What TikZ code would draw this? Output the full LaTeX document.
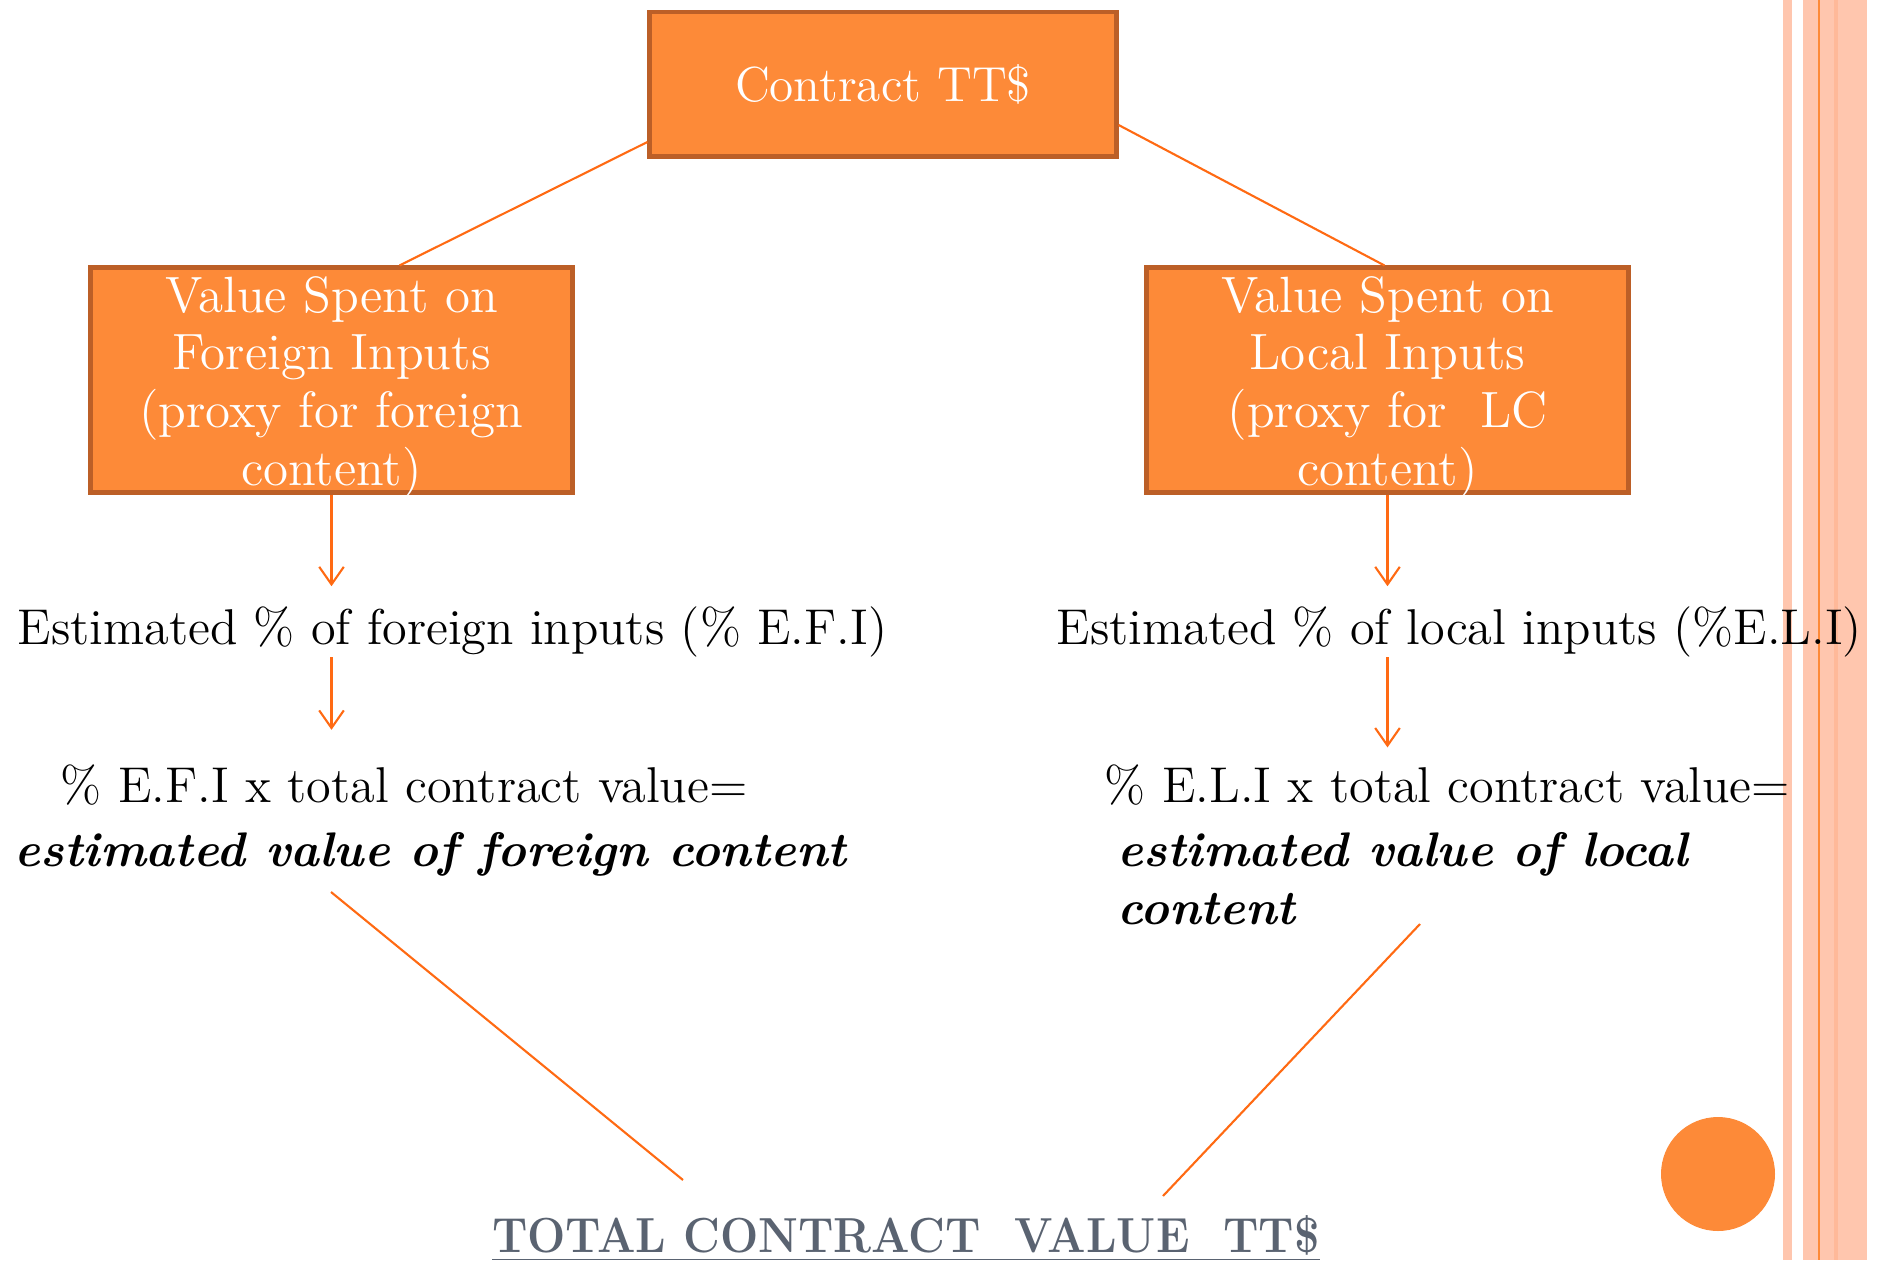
\documentclass[tikz,border=0pt]{standalone}
\usetikzlibrary{arrows.meta,calc,positioning}
\definecolor{boxfill}{HTML}{FD8A38}
\definecolor{boxline}{HTML}{BC5F27}
\definecolor{linkcol}{HTML}{FF6A13}
\definecolor{stripe}{HTML}{FFC6AE}
\definecolor{stripedark}{HTML}{FFB999}
\definecolor{totalcol}{HTML}{5A6371}
\begin{document}
\begin{tikzpicture}[x=0.01cm,y=-0.01cm,font=\fontsize{14.3}{16.4}\selectfont,
	box/.style={draw=boxline,fill=boxfill,line width=1.4pt,text=white,align=center,inner sep=0pt},
	tallbox/.style={box,minimum width=4.81cm,minimum height=2.24cm},
	boxtext/.style={text=white,align=center,inner sep=0pt,font=\fontsize{14.5}{16.4}\selectfont},
	link/.style={draw=linkcol,line width=0.6pt},
	arr/.style={link,-{Straight Barb[length=5pt,width=7pt]}},
	txt/.style={anchor=base west,inner sep=0pt,align=left},
	bold/.style={font=\fontsize{13.8}{16.4}\selectfont\bfseries\itshape}]
	\useasboundingbox (0,0) rectangle (1881,1260);
	% stripes on the right
	\fill[stripe] (1783,0) rectangle (1792,1260);
	\fill[stripe] (1803,0) rectangle (1867,1260);
	\fill[stripedark] (1834,0) rectangle (1838,1260);
	\draw[boxfill,line width=0.6pt] (1819,0) -- (1819,1260);
	\fill[boxfill] (1718,1174) circle (57);
	% boxes
	\node[box,minimum width=4.66cm,minimum height=1.44cm,font=\fontsize{14}{16.4}\selectfont]
		(contract) at (883,84) {Contract TT\$};
	\node[tallbox] (foreign) at (331.5,380) {};
	\node[boxtext] (foreign_t) at ($(foreign)+(0,7)$)
		{Value Spent on\\Foreign Inputs\\(proxy for foreign\\content)};
	\node[tallbox] (local) at (1387.5,380) {};
	\node[boxtext] (local_t) at ($(local)+(0,7)$)
		{Value Spent on\\Local Inputs\\(proxy for\ \ LC\\content)};
	% texts
	\node[txt] (efi) at (17,644) {Estimated \% of foreign inputs (\% E.F.I)};
	\node[txt] (eli) at (1056,644) {Estimated \% of local inputs (\%E.L.I)};
	\node[txt] (efx) at (60,802) {\% E.F.I x total contract value=};
	\node[txt,bold] (efv) at (14,866) {estimated value of foreign content};
	\node[txt] (elx) at (1104,802) {\% E.L.I x total contract value=};
	\node[txt,bold] (elv) at (1117,924) {estimated value of local\\content};
	\node[anchor=base,inner sep=0pt,text=totalcol,font=\fontsize{14}{16}\selectfont\bfseries] (total)
		at (906,1252) {\scalebox{0.92}[1]{\underline{TOTAL CONTRACT\ \ VALUE\ \ TT\$}}};
	\path (331,892) coordinate (f_end)
		(683,1180) coordinate (t_left)
		(1420,924) coordinate (l_end)
		(1163,1196) coordinate (t_right);
	% connectors
	\draw[link] ($(contract.west)+(0,58)$) -- ($(foreign.north)+(68,0)$);
	\draw[link] ($(contract.east)+(0,41)$) -- ($(local.north)+(-3,0)$);
	\draw[arr,shorten >=5.5pt] (foreign.south) -- (foreign.south |- efi.north);
	\draw[arr,shorten >=5.5pt] (local.south) -- (local.south |- eli.north);
	\draw[arr,shorten >=9.6pt] (foreign.south |- efi.south) -- (foreign.south |- efx.north);
	\draw[arr,shorten >=4.6pt] (local.south |- eli.south) -- (local.south |- elx.north);
	\draw[link] (f_end) -- (t_left);
	\draw[link] (l_end) -- (t_right);
\end{tikzpicture}
\end{document}
